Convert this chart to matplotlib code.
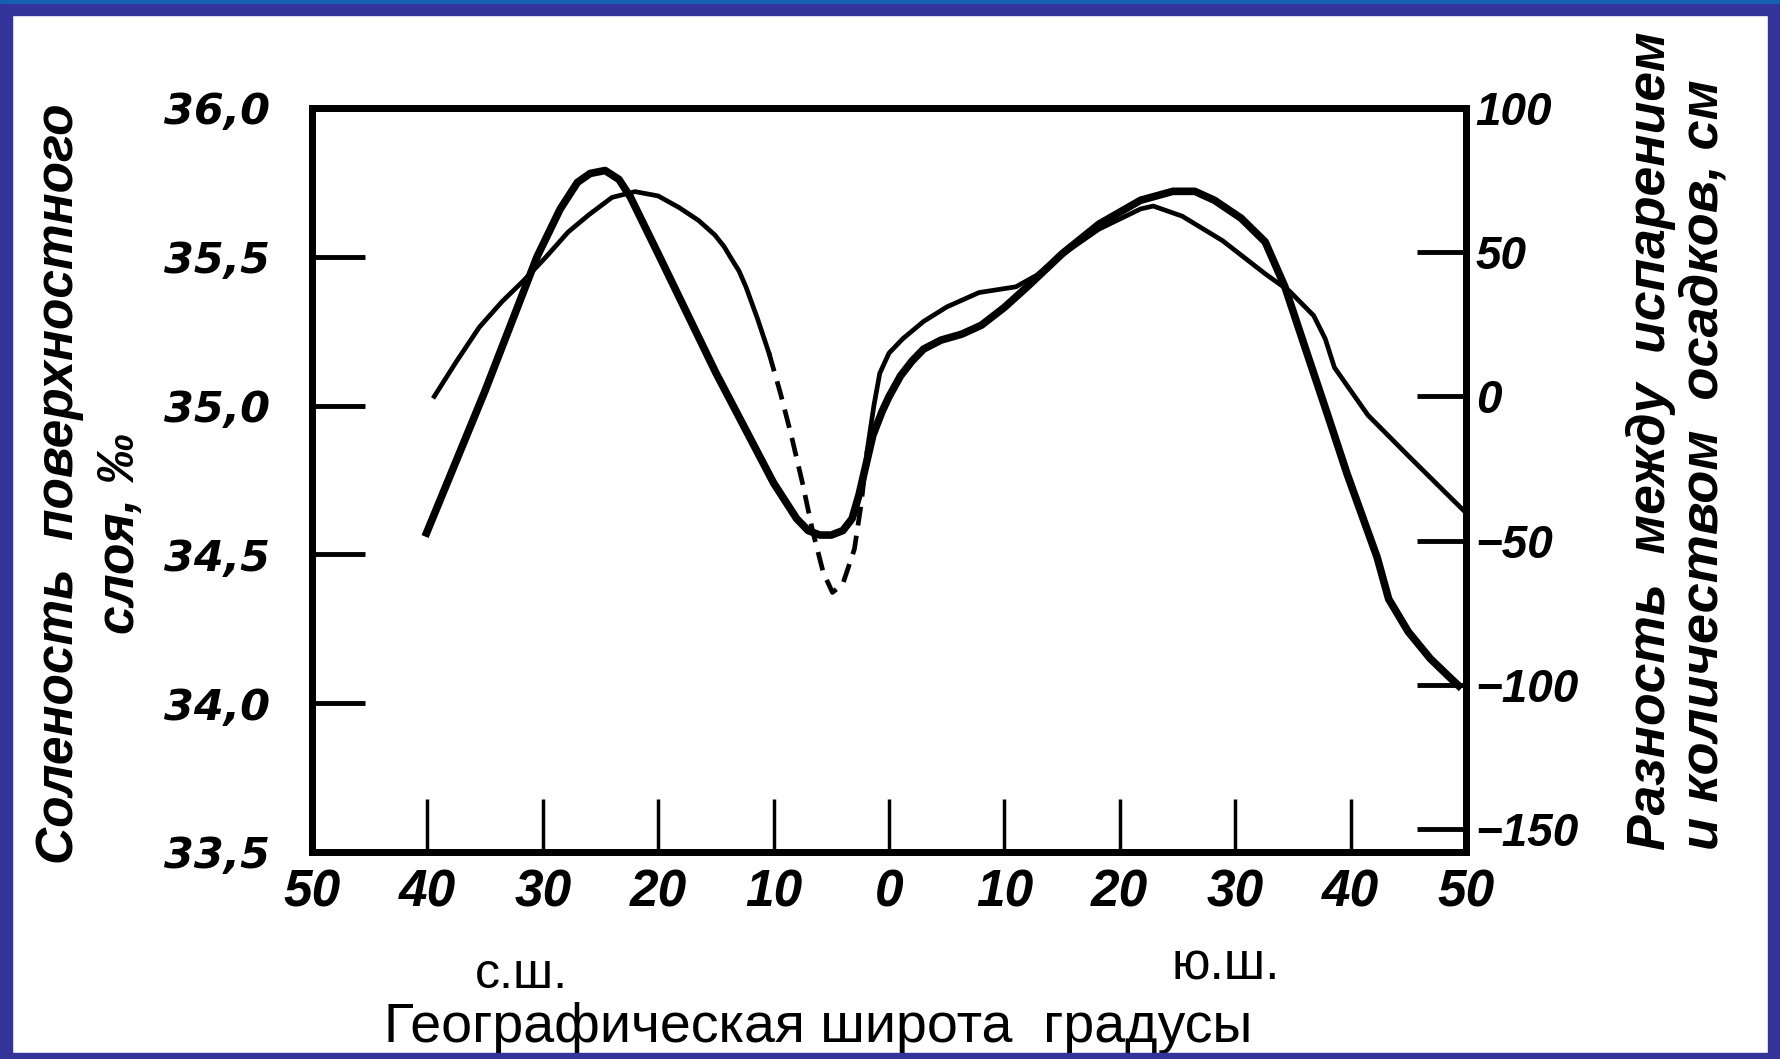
import matplotlib
matplotlib.use("Agg")
import matplotlib.pyplot as plt
from matplotlib.patches import Rectangle

# ---------------- data ----------------
# latitude: north positive, south negative
sal_lat = [40.2, 35.0, 30.5, 28.5, 27.0, 25.9, 24.6, 23.4, 22.4, 20.0, 15.0, 10.0,
           8.0, 7.0, 6.0, 5.0, 4.0, 3.2, 2.6, 2.0, 1.4, 0.6, 0.0, -1.0, -2.0, -3.0,
           -4.5, -6.3, -8.0, -10.0, -12.0, -15.0, -18.2, -21.8, -24.6, -26.5, -28.2,
           -30.5, -32.6, -34.3, -36.1, -38.0, -39.7, -41.0, -42.3, -43.3, -45.0,
           -46.9, -48.5, -49.6]
salinity = [34.56, 35.05, 35.50, 35.66, 35.75, 35.78, 35.79, 35.76, 35.70, 35.51, 35.11,
            34.74, 34.62, 34.58, 34.565, 34.565, 34.58, 34.62, 34.70, 34.80, 34.90,
            34.98, 35.03, 35.10, 35.15, 35.19, 35.22, 35.24, 35.27, 35.33, 35.40,
            35.51, 35.61, 35.69, 35.72, 35.72, 35.69, 35.63, 35.55, 35.40, 35.19,
            34.97, 34.77, 34.63, 34.49, 34.35, 34.24, 34.15, 34.09, 34.05]

ep_lat = [39.4, 37.5, 35.5, 33.5, 31.7, 29.8, 27.8, 26.0, 24.0, 22.0, 20.0, 18.2,
          16.5, 15.1, 14.3, 13.7, 13.0, 12.4, 11.4, 10.4, 9.4, 8.5, 7.5, 6.6, 5.7,
          4.9, 4.0, 3.0, 2.4, 1.9, 1.3, 0.8, 0.0, -1.2, -3.0, -5.0, -7.8, -11.0,
          -12.8, -14.6, -18.2, -21.8, -22.9, -25.4, -28.9, -32.6, -34.7, -36.8,
          -37.8, -38.6, -41.5, -45.1, -49.8]
evap_minus_precip = [0, 12, 24, 33, 40, 48, 57, 63, 69, 71, 69.5, 65.5, 61, 56, 52,
                     48, 43.5, 38, 27, 15, 1, -13, -30, -47, -61, -68, -65, -53,
                     -37, -19, -3, 8, 15, 20, 26, 31, 36, 38, 42, 48, 58, 65, 66,
                     62.5, 54, 42.5, 36.5, 28, 20, 10, -6.5, -21, -39.6]
dashed_from, dashed_to = 10.4, 1.9   # uncertain (dashed) stretch of E-P curve

x_ticks = [50, 40, 30, 20, 10, 0, -10, -20, -30, -40, -50]
x_labels = ["50", "40", "30", "20", "10", "0", "10", "20", "30", "40", "50"]
sal_ticks = [33.5, 34.0, 34.5, 35.0, 35.5, 36.0]
sal_labels = ["33,5", "34,0", "34,5", "35,0", "35,5", "36,0"]
ep_ticks = [100, 50, 0, -50, -100, -150]
ep_labels = ["100", "50", "0", "\u221250", "\u2212100", "\u2212150"]

# ---------------- figure ----------------
W, H = 1780, 1059
fig = plt.figure(figsize=(W / 100, H / 100), dpi=100)
fig.patch.set_facecolor("white")


def fx(x):
    return x / W


def fy(y):
    return 1 - y / H


NARROW = ["Liberation Sans Narrow", "Liberation Sans", "DejaVu Sans"]
LIB = ["Liberation Sans", "DejaVu Sans"]

ax = fig.add_axes([fx(312), fy(852), fx(1466) - fx(312), fy(108) - fy(852)])
ax.set_xlim(50, -50)
ax.set_ylim(33.5, 36.0)
ax2 = ax.twinx()
ax2.set_ylim(-158, 100)

for a in (ax, ax2):
    for s in a.spines.values():
        s.set_linewidth(5)
        s.set_color("black")

ax.plot(sal_lat, salinity, color="black", lw=5.5, solid_joinstyle="round",
        solid_capstyle="butt", zorder=3)

solid1 = [(la, v) for la, v in zip(ep_lat, evap_minus_precip) if la >= dashed_from]
dashed = [(la, v) for la, v in zip(ep_lat, evap_minus_precip) if dashed_to <= la <= dashed_from]
solid2 = [(la, v) for la, v in zip(ep_lat, evap_minus_precip) if la <= dashed_to]
for seg, ls in ((solid1, "-"), (dashed, (0, (4, 2.2))), (solid2, "-")):
    ax2.plot([p[0] for p in seg], [p[1] for p in seg], color="black", lw=3.4,
             linestyle=ls, solid_joinstyle="round", zorder=3)

ax.set_xticks(x_ticks)
ax.set_xticklabels(x_labels, family=NARROW, weight="bold", style="italic", fontsize=37)
ax.tick_params(axis="x", direction="in", length=38, width=2.5, pad=12)
ax.set_yticks(sal_ticks)
ax.set_yticklabels(sal_labels, family=["DejaVu Sans"], weight="bold", style="italic",
                   fontsize=31)
ax.tick_params(axis="y", direction="in", length=38, width=3.5, pad=30)
ax2.set_yticks(ep_ticks)
ax2.set_yticklabels(ep_labels, family=LIB, weight="bold", style="italic", fontsize=33)
ax2.tick_params(axis="y", direction="in", length=35, width=3.5, pad=7)
ax.minorticks_off()
ax2.minorticks_off()

# axis titles
lab = dict(family=NARROW, weight="bold", style="italic", rotation=90)
fig.text(fx(60), fy(864), "Соленость  поверхностного", ha="center", va="bottom",
         fontsize=37, **lab)
fig.text(fx(120), fy(533), "слоя, \u2030", ha="center", va="center", fontsize=37, **lab)
fig.text(fx(1651), fy(850), "Разность  между  испарением", ha="center", va="bottom",
         fontsize=38.5, **lab)
fig.text(fx(1703), fy(850), "и количеством  осадков, см", ha="center", va="bottom",
         fontsize=39, **lab)

fig.text(fx(521), fy(975), "с.ш.", ha="center", va="center", fontsize=36, family=LIB)
fig.text(fx(1226), fy(966), "ю.ш.", ha="center", va="center", fontsize=37, family=LIB)
fig.text(fx(818), fy(1042), "Географическая широта  градусы", ha="center",
         va="baseline", fontsize=40, family=LIB)

# blue frame of the slide
blue = "#333399"
fig.patches.extend([
    Rectangle((0, 0), fx(12), 1, transform=fig.transFigure, color=blue, zorder=10),
    Rectangle((fx(1768), 0), 1 - fx(1768), 1, transform=fig.transFigure, color=blue, zorder=10),
    Rectangle((0, fy(15)), 1, 1 - fy(15), transform=fig.transFigure, color=blue, zorder=10),
    Rectangle((0, fy(3)), 1, 1 - fy(3), transform=fig.transFigure, color="#1560b0", zorder=11),
    Rectangle((0, 0), 1, fy(1053), transform=fig.transFigure, color=blue, zorder=10),
])

fig.savefig("out.png", dpi=100, facecolor="white")
